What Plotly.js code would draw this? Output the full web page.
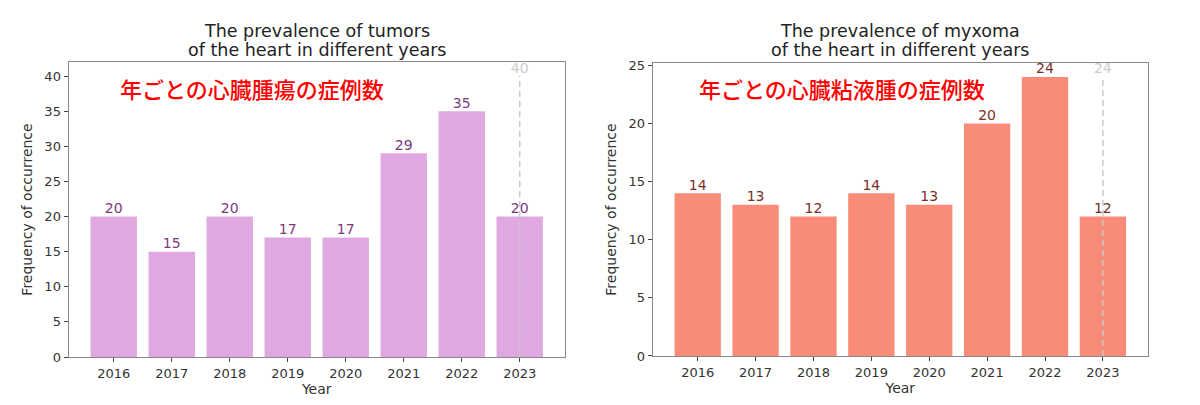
<!DOCTYPE html>
<html>
<head>
<meta charset="utf-8">
<script src="https://cdn.plot.ly/plotly-3.0.1.min.js"></script>
<style>
  body { margin: 0; background: #fff; }
  #chart { width: 1200px; height: 405px; }
</style>
</head>
<body>
<div id="chart"></div>
<script>
// data
const years = ['2016', '2017', '2018', '2019', '2020', '2021', '2022', '2023'];
const tumorCounts = [20, 15, 20, 17, 17, 29, 35, 20];
const myxomaCounts = [14, 13, 12, 14, 13, 20, 24, 12];
const refYear = '2023';
const tumorRef = 40;
const myxomaRef = 24;
const tumorTitle = ['The prevalence of tumors', 'of the heart in different years'];
const myxomaTitle = ['The prevalence of myxoma', 'of the heart in different years'];
const tumorJa = '年ごとの心臓腫瘍の症例数';
const myxomaJa = '年ごとの心臓粘液腫の症例数';

const FONT = 'DejaVu Sans, sans-serif';

function barTrace(vals, color, xa, ya) {
  return {
    type: 'bar', x: years, y: vals, xaxis: xa, yaxis: ya,
    width: 0.8, marker: {color: color, line: {width: 0}},
    hoverinfo: 'skip', showlegend: false
  };
}

// dashed marker line with its value on top
function refTrace(val, xa, ya) {
  return {
    type: 'scatter', mode: 'lines+text', x: [refYear, refYear], y: [0, val],
    xaxis: xa, yaxis: ya, line: {color: '#c8c8c8', dash: '6px,4px', width: 1.5},
    text: ['', String(val)], textposition: 'top center',
    textfont: {family: FONT, size: 14, color: '#cccccc'},
    cliponaxis: false, hoverinfo: 'skip', showlegend: false
  };
}

function labelTrace(vals, color, xa, ya) {
  return {
    type: 'scatter', mode: 'text', x: years, y: vals, xaxis: xa, yaxis: ya,
    text: vals.map(String), textposition: 'top center',
    textfont: {family: FONT, size: 14, color: color},
    cliponaxis: false, hoverinfo: 'skip', showlegend: false
  };
}

const data = [
  barTrace(tumorCounts, '#dfa8e0', 'x', 'y'),
  refTrace(tumorRef, 'x', 'y'),
  labelTrace(tumorCounts, '#7a3a7c', 'x', 'y'),
  barTrace(myxomaCounts, '#f98b79', 'x2', 'y2'),
  refTrace(myxomaRef, 'x2', 'y2'),
  labelTrace(myxomaCounts, '#7a2e2a', 'x2', 'y2')
];

const xBase = {
  type: 'category', range: [-0.78, 7.78], showgrid: false, zeroline: false,
  showline: true, mirror: true, linecolor: '#888', linewidth: 1,
  ticks: 'outside', ticklen: 4, tickcolor: '#444',
  tickfont: {family: FONT, size: 13, color: '#333'},
  title: {text: 'Year', font: {family: FONT, size: 14, color: '#333'}, standoff: 3}
};
const yBase = {
  showgrid: false, zeroline: false,
  showline: true, mirror: true, linecolor: '#888', linewidth: 1,
  ticks: 'outside', ticklen: 4, tickcolor: '#444',
  tickfont: {family: FONT, size: 13, color: '#333'},
  title: {text: 'Frequency of occurrence', font: {family: FONT, size: 14, color: '#333'}, standoff: 8}
};

function titleLines(lines, xc) {
  return [
    {xref: 'paper', yref: 'paper', x: xc, y: 1 - 31 / 405, text: lines[0], showarrow: false,
     xanchor: 'center', yanchor: 'middle', font: {family: FONT, size: 17.5, color: '#222'}},
    {xref: 'paper', yref: 'paper', x: xc, y: 1 - 50 / 405, text: lines[1], showarrow: false,
     xanchor: 'center', yanchor: 'middle', font: {family: FONT, size: 17.5, color: '#222'}}
  ];
}

const layout = {
  width: 1200, height: 405,
  margin: {l: 0, r: 0, t: 0, b: 0},
  paper_bgcolor: '#fff', plot_bgcolor: '#fff',
  xaxis: Object.assign({}, xBase, {domain: [0.0571, 0.4708], anchor: 'y'}),
  yaxis: Object.assign({}, yBase, {domain: [0.1185, 0.847], range: [0, 42], dtick: 5, anchor: 'x'}),
  xaxis2: Object.assign({}, xBase, {domain: [0.5438, 0.9567], anchor: 'y2'}),
  yaxis2: Object.assign({}, yBase, {domain: [0.121, 0.8444], range: [0, 25.2], dtick: 5, anchor: 'x2'}),
  annotations: titleLines(tumorTitle, 0.2639)
    .concat(titleLines(myxomaTitle, 0.7503))
    .concat([
      {xref: 'paper', yref: 'paper', x: 0.21, y: 0.783, text: tumorJa, showarrow: false,
       xanchor: 'center', yanchor: 'middle',
       font: {family: 'Noto Sans CJK JP', size: 22, weight: 500, color: '#f00'}},
      {xref: 'paper', yref: 'paper', x: 0.702, y: 0.783, text: myxomaJa, showarrow: false,
       xanchor: 'center', yanchor: 'middle',
       font: {family: 'Noto Sans CJK JP', size: 22, weight: 500, color: '#f00'}}
    ])
};

Plotly.newPlot('chart', data, layout, {staticPlot: true});
</script>
</body>
</html>
